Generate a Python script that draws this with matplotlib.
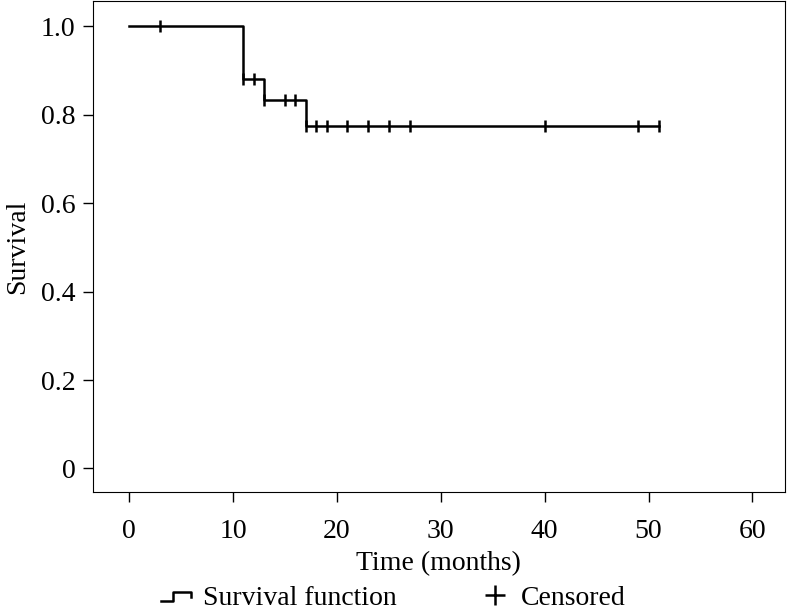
import matplotlib.pyplot as plt
from matplotlib.legend_handler import HandlerBase
from matplotlib.lines import Line2D

plt.rcParams['font.family'] = ['Liberation Serif', 'DejaVu Serif']

# Kaplan-Meier step data
step_times = [0, 11, 13, 17, 51]
step_surv = [1.0, 0.882, 0.833, 0.775, 0.775]

# censored observations
cens_times = [3, 11, 12, 13, 15, 16, 17, 18, 19, 21, 23, 25, 27, 40, 49, 51]
cens_surv = [1.0, 0.882, 0.882, 0.833, 0.833, 0.833, 0.775, 0.775, 0.775,
             0.775, 0.775, 0.775, 0.775, 0.775, 0.775, 0.775]

xticks = [0, 10, 20, 30, 40, 50, 60]
yticks = [0, 0.2, 0.4, 0.6, 0.8, 1.0]
ytick_labels = ['0', '0.2', '0.4', '0.6', '0.8', '1.0']


class StepHandler(HandlerBase):
	def create_artists(self, legend, orig_handle, xdescent, ydescent, width, height, fontsize, trans):
		x0 = -xdescent
		y0 = -ydescent
		xs = [x0, x0 + width * 0.4, x0 + width * 0.4, x0 + width, x0 + width]
		ys = [y0 + height * 0.2, y0 + height * 0.2, y0 + height * 0.65, y0 + height * 0.65, y0 + height * 0.4]
		ln = Line2D(xs, ys, color='black', lw=1.8, transform=trans)
		return [ln]


fig = plt.figure(figsize=(7.87, 6.10), dpi=100)
ax = fig.add_axes([0.118, 0.193, 0.879, 0.805])

ax.step(step_times, step_surv, where='post', color='black', lw=1.8)
ax.plot(cens_times, cens_surv, linestyle='none', marker='|', markersize=8,
		markeredgewidth=1.8, color='black')

ax.set_xlim(-3.5, 63.1)
ax.set_ylim(-0.054, 1.057)
ax.set_xticks(xticks)
ax.set_yticks(yticks)
ax.set_yticklabels(ytick_labels)
ax.tick_params(direction='out', length=7.5, width=1, labelsize=20)
ax.tick_params(axis='x', pad=11.5)
ax.tick_params(axis='y', pad=5)
ax.set_xlabel('Time (months)', fontsize=20, labelpad=5)
ax.set_ylabel('Survival', fontsize=20, labelpad=8)

h1 = Line2D([], [], color='black')
h2 = Line2D([], [], color='black', marker='+', markersize=14, markeredgewidth=1.8, linestyle='none')
fig.legend([h1, h2], ['Survival function', 'Censored'], handler_map={h1: StepHandler()},
		   loc='lower center', bbox_to_anchor=(0.5, -0.042), ncol=2, frameon=False,
		   fontsize=20, handlelength=1.1, handletextpad=0.4, columnspacing=3.0)

fig.savefig('out.png', dpi=100)
